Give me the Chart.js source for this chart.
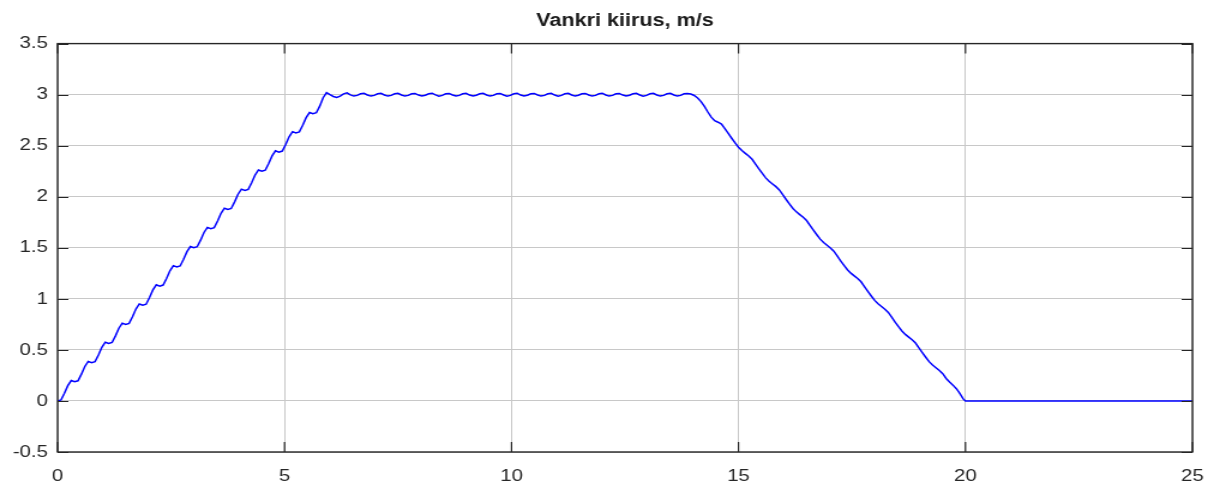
<!DOCTYPE html>
<html>
<head>
<meta charset="utf-8">
<script src="https://cdn.jsdelivr.net/npm/chart.js@4.4.1/dist/chart.umd.min.js"></script>
<style>
html,body{margin:0;padding:0;background:#fff;overflow:hidden}
#c{display:block;width:1214px;height:487px}
</style>
</head>
<body>
<canvas id="c" width="1012" height="487" style="width:1214px;height:487px"></canvas>
<script>
const titleText = 'Vankri kiirus, m/s';
const xTickValues = [0, 5, 10, 15, 20, 25];
const yTickValues = [-0.5, 0, 0.5, 1, 1.5, 2, 2.5, 3, 3.5];

// sample times, s
const timeS = [
  0,0.075,0.15,0.225,0.3,0.375,0.45,0.525,0.6,0.675,0.75,0.825,0.9,0.975,1.05,1.125,1.2,1.275,1.35,1.425,
  1.5,1.575,1.65,1.725,1.8,1.875,1.95,2.025,2.1,2.175,2.25,2.325,2.4,2.475,2.55,2.625,2.7,2.775,2.85,2.925,
  3,3.075,3.15,3.225,3.3,3.375,3.45,3.525,3.6,3.675,3.75,3.825,3.9,3.975,4.05,4.125,4.2,4.275,4.35,4.425,
  4.5,4.575,4.65,4.725,4.8,4.875,4.95,5.025,5.1,5.175,5.25,5.325,5.4,5.475,5.55,5.625,5.7,5.775,5.85,5.925,
  6,6.075,6.15,6.225,6.3,6.375,6.45,6.525,6.6,6.675,6.75,6.825,6.9,6.975,7.05,7.125,7.2,7.275,7.35,7.425,
  7.5,7.575,7.65,7.725,7.8,7.875,7.95,8.025,8.1,8.175,8.25,8.325,8.4,8.475,8.55,8.625,8.7,8.775,8.85,8.925,
  9,9.075,9.15,9.225,9.3,9.375,9.45,9.525,9.6,9.675,9.75,9.825,9.9,9.975,10.05,10.125,10.2,10.275,10.35,10.425,
  10.5,10.575,10.65,10.725,10.8,10.875,10.95,11.025,11.1,11.175,11.25,11.325,11.4,11.475,11.55,11.625,11.7,11.775,11.85,11.925,
  12,12.075,12.15,12.225,12.3,12.375,12.45,12.525,12.6,12.675,12.75,12.825,12.9,12.975,13.05,13.125,13.2,13.275,13.35,13.425,
  13.5,13.575,13.65,13.725,13.8,13.875,13.95,14.025,14.1,14.175,14.25,14.325,14.4,14.475,14.55,14.625,14.7,14.775,14.85,14.925,
  15,15.075,15.15,15.225,15.3,15.375,15.45,15.525,15.6,15.675,15.75,15.825,15.9,15.975,16.05,16.125,16.2,16.275,16.35,16.425,
  16.5,16.575,16.65,16.725,16.8,16.875,16.95,17.025,17.1,17.175,17.25,17.325,17.4,17.475,17.55,17.625,17.7,17.775,17.85,17.925,
  18,18.075,18.15,18.225,18.3,18.375,18.45,18.525,18.6,18.675,18.75,18.825,18.9,18.975,19.05,19.125,19.2,19.275,19.35,19.425,
  19.5,19.575,19.65,19.725,19.8,19.875,19.95,20,25
];

// trolley speed, m/s
const speedMS = [
  0,0.01,0.075,0.15,0.2,0.1875,0.1975,0.2625,0.3375,0.3875,0.375,0.385,0.45,0.525,0.575,0.5625,0.5725,0.6375,0.7125,0.7625,
  0.75,0.76,0.825,0.9,0.95,0.9375,0.9475,1.0125,1.0875,1.1375,1.125,1.135,1.2,1.275,1.325,1.3125,1.3225,1.3875,1.4625,1.5125,
  1.5,1.51,1.575,1.65,1.7,1.6875,1.6975,1.7625,1.8375,1.8875,1.875,1.885,1.95,2.025,2.075,2.0625,2.0725,2.1375,2.2125,2.2625,
  2.25,2.26,2.325,2.4,2.45,2.4375,2.4475,2.5125,2.5875,2.6375,2.625,2.635,2.7,2.775,2.825,2.8125,2.8225,2.8875,2.97,3.02,
  3.0,2.982,2.972,2.985,3.008,3.018,2.997,2.986,2.993,3.008,3.013,2.997,2.986,2.993,3.008,3.013,2.997,2.986,2.993,3.008,
  3.013,2.997,2.986,2.993,3.008,3.012,2.996,2.986,2.994,3.009,3.014,2.997,2.985,2.993,3.008,3.012,2.997,2.987,2.993,3.008,
  3.013,2.996,2.986,2.994,3.009,3.013,2.997,2.986,2.993,3.008,3.012,2.997,2.985,2.993,3.009,3.014,2.996,2.986,2.994,3.008,
  3.012,2.997,2.986,2.993,3.008,3.013,2.996,2.985,2.993,3.009,3.013,2.997,2.986,2.994,3.008,3.012,2.997,2.986,2.993,3.009,
  3.014,2.997,2.986,2.993,3.008,3.012,2.996,2.986,2.994,3.008,3.013,2.997,2.985,2.993,3.009,3.013,2.997,2.986,2.993,3.008,
  3.013,2.997,2.986,2.993,3.008,3.012,3.006,2.992,2.968,2.932,2.885,2.83,2.78,2.745,2.73,2.712,2.667,2.62,2.573,2.528,
  2.485,2.452,2.425,2.399,2.367,2.32,2.273,2.228,2.185,2.152,2.125,2.099,2.067,2.02,1.973,1.928,1.885,1.852,1.825,1.799,
  1.767,1.72,1.673,1.628,1.585,1.552,1.525,1.499,1.467,1.42,1.373,1.328,1.285,1.252,1.225,1.199,1.167,1.12,1.073,1.028,
  0.985,0.952,0.925,0.899,0.867,0.82,0.773,0.728,0.685,0.652,0.625,0.599,0.567,0.52,0.473,0.428,0.385,0.352,0.325,0.299,
  0.267,0.22,0.185,0.155,0.12,0.075,0.02,0,0
];

const points = timeS.map((t, i) => ({ x: t, y: speedMS[i] }));

const FONT = "'Liberation Sans', Arial, Helvetica, sans-serif";

const matlabFrame = {
  id: 'matlabFrame',
  afterDatasetsDraw(chart) {
    const { ctx, chartArea: a, scales: { x, y } } = chart;
    ctx.save();
    ctx.strokeStyle = '#262626';
    ctx.lineWidth = 1.2;
    ctx.beginPath();
    const LX = 10, LY = 9;
    x.ticks.forEach(t => {
      const px = x.getPixelForValue(t.value);
      ctx.moveTo(px, a.bottom); ctx.lineTo(px, a.bottom - LX);
      ctx.moveTo(px, a.top); ctx.lineTo(px, a.top + LX);
    });
    y.ticks.forEach(t => {
      const py = Math.round(y.getPixelForValue(t.value)) + 0.5;
      ctx.moveTo(a.left, py); ctx.lineTo(a.left + LY, py);
      ctx.moveTo(a.right, py); ctx.lineTo(a.right - LY, py);
    });
    ctx.stroke();
    ctx.lineWidth = 1.4;
    ctx.strokeRect(a.left, a.top, a.right - a.left, a.bottom - a.top);
    ctx.restore();
  }
};

const chart = new Chart(document.getElementById('c'), {
  type: 'line',
  data: {
    datasets: [{
      data: points,
      borderColor: '#0000ff',
      borderWidth: 1.5,
      pointRadius: 0,
      tension: 0,
      fill: false
    }]
  },
  options: {
    responsive: false,
    devicePixelRatio: 1,
    animation: false,
    layout: { padding: { left: 0, right: 18, top: 0, bottom: 0 } },
    plugins: {
      legend: { display: false },
      tooltip: { enabled: false },
      title: {
        display: true,
        text: titleText,
        fullSize: false,
        color: '#1a1a1a',
        font: { family: FONT, size: 18, weight: 'bold' },
        padding: { top: 10, bottom: 12 }
      }
    },
    scales: {
      x: {
        type: 'linear',
        min: 0, max: 25,
        afterBuildTicks: s => { s.ticks = xTickValues.map(v => ({ value: v })); },
        afterFit: s => { s.height = 35; s.paddingLeft = 0; s.paddingRight = 0; },
        border: { display: false },
        grid: { color: '#c8c8c8', lineWidth: 1, drawTicks: false },
        ticks: { color: '#262626', padding: 14, maxRotation: 0, callback: v => String(v), font: { family: FONT, size: 17 } }
      },
      y: {
        type: 'linear',
        min: -0.5, max: 3.5,
        afterBuildTicks: s => { s.ticks = yTickValues.map(v => ({ value: v })); },
        afterFit: s => { s.width = 48; s.paddingTop = 0; s.paddingBottom = 0; },
        border: { display: false },
        grid: { color: '#c8c8c8', lineWidth: 1, drawTicks: false },
        ticks: { color: '#262626', padding: 8, callback: v => String(v), font: { family: FONT, size: 17 } }
      }
    }
  },
  plugins: [matlabFrame]
});
const cv = document.getElementById('c');
cv.style.width = '1214px';
cv.style.height = '487px';
</script>
</body>
</html>
